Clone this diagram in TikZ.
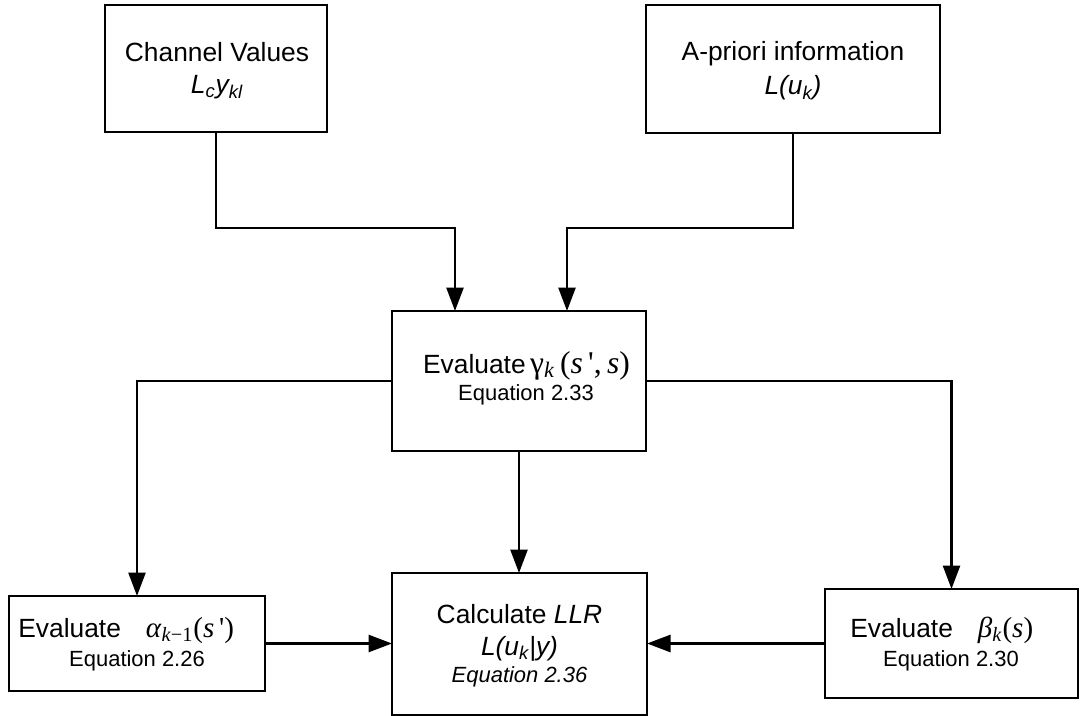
\documentclass[tikz,border=0pt]{standalone}
\usepackage{fontspec}
\setmainfont{Liberation Sans}
\newfontfamily\tms{Liberation Serif}
\usetikzlibrary{arrows.meta}
\newcommand{\bigtxt}{\fontsize{15}{18}\selectfont}
\newcommand{\eqtxt}{\fontsize{12.5}{15}\selectfont}
\newcommand{\mtxt}{\fontsize{18}{20}\selectfont\tms}
\newcommand{\mtxtb}{\fontsize{16.5}{20}\selectfont\tms}
\tikzset{
  box/.style={draw, line width=1.5pt, inner sep=0pt, outer sep=0pt},
  arr/.style={-{Triangle[length=0.47cm,width=0.34cm]}, line width=1.5pt},
  txt/.style={inner sep=0pt, anchor=base},
  txtw/.style={inner sep=0pt, anchor=base west}
}
\begin{document}
\begin{tikzpicture}
\useasboundingbox (0,0) rectangle (21.62,-14.32);
% boxes
\node[box, minimum width=4.44cm, minimum height=2.54cm] (ch) at (4.32,-1.37) {};
\node[box, minimum width=5.88cm, minimum height=2.56cm] (ap) at (15.86,-1.38) {};
\node[box, minimum width=5.08cm, minimum height=2.80cm] (g) at (10.38,-7.62) {};
\node[box, minimum width=5.10cm, minimum height=2.84cm] (llr) at (10.39,-12.88) {};
\node[box, minimum width=5.12cm, minimum height=1.90cm] (al) at (2.74,-12.87) {};
\node[box, minimum width=5.06cm, minimum height=2.18cm] (be) at (19.03,-12.87) {};
% texts
\node[txt] (ch1) at (4.34,-1.24) {\bigtxt Channel Values};
\node[txt] (ch2) at (4.34,-1.88) {\bigtxt\itshape L\textsubscript{c}y\textsubscript{kl}};
\node[txt] (ap1) at (15.86,-1.22) {\bigtxt A-priori information};
\node[txt] (ap2) at (15.86,-1.90) {\bigtxt\itshape L(u\textsubscript{k})};
\node[txt] (g1) at (10.53,-7.46) {\bigtxt Evaluate\,{\mtxt γ\textsubscript{\itshape k}\,(\textit{s}\,',\,\textit{s})}};
\node[txt] (g2) at (10.52,-8.00) {\eqtxt Equation 2.33};
\node[txt] (l1) at (10.39,-12.46) {\bigtxt Calculate \textit{LLR}};
\node[txt] (l2) at (10.39,-13.10) {\bigtxt\itshape L(u\textsubscript{k}|y)};
\node[txt] (l3) at (10.39,-13.64) {\eqtxt\itshape Equation 2.36};
\node[txtw] (a1) at (0.36,-12.74) {\bigtxt Evaluate\hspace{0.5cm}{\mtxtb\textit{α}\textsubscript{\textit{k}−1}(\textit{s}\,')}};
\node[txt] (a2) at (2.74,-13.32) {\eqtxt Equation 2.26};
\node[txtw] (b1) at (17.0,-12.74) {\bigtxt Evaluate\hspace{0.5cm}{\mtxtb\textit{β}\textsubscript{\textit{k}}(\textit{s})}};
\node[txt] (b2) at (19.02,-13.32) {\eqtxt Equation 2.30};
% connectors
\draw[arr] (ch.south) -- (ch.south |- 0,-4.56) -| ([xshift=-1.28cm]g.north);
\draw[arr] (ap.south) -- (ap.south |- 0,-4.56) -| ([xshift=0.96cm]g.north);
\draw[arr] (g.west) -| (al.north);
\draw[arr] (g.east) -| (be.north);
\draw[arr] (g.south) -- (g.south |- llr.north);
\draw[arr] (al.east) -- (al.east -| llr.west);
\draw[arr] (be.west) -- (be.west -| llr.east);
\end{tikzpicture}
\end{document}
